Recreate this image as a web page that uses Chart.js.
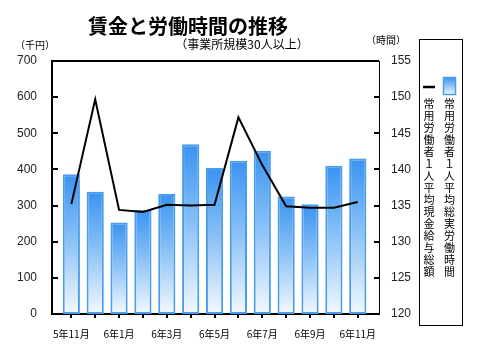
<!DOCTYPE html>
<html><head><meta charset="utf-8">
<script src="https://cdn.jsdelivr.net/npm/chart.js@4/dist/chart.umd.min.js"></script>
<style>html,body{margin:0;padding:0;background:#fff;}#wrap{width:479px;height:356px;}</style>
</head><body><div id="wrap"><canvas id="c" width="479" height="356"></canvas></div>
<script>
const categories = ['5年11月','5年12月','6年1月','6年2月','6年3月','6年4月','6年5月','6年6月','6年7月','6年8月','6年9月','6年10月','6年11月'];
const wages = [387, 338, 253, 288, 332, 470, 404, 424, 452, 325, 304, 410, 430];
const hours = [135.2, 149.7, 134.4, 134.1, 135.1, 135.0, 135.1, 147.2, 140.6, 134.9, 134.7, 134.7, 135.5];
const leftTicks = [0, 100, 200, 300, 400, 500, 600, 700];
const rightTicks = [120, 125, 130, 135, 140, 145, 150, 155];
const titleText = '賃金と労働時間の推移';
const subtitleText = '（事業所規模30人以上）';
const leftUnit = '（千円）';
const rightUnit = '（時間）';
const lineLabel = '常用労働者１人平均現金給与総額';
const barLabel = '常用労働者１人平均総実労働時間';

const JP = '"Noto Sans CJK JP", sans-serif';
const NUM = '"Liberation Sans", Arial, sans-serif';

function barGradient(c, top, bottom) {
  const g = c.createLinearGradient(0, top, 0, bottom);
  g.addColorStop(0, '#3a93f1');
  g.addColorStop(0.45, '#86bff6');
  g.addColorStop(1, '#f3f9ff');
  return g;
}

const decor = {
  id: 'decor',
  afterDraw(chart) {
    const c = chart.ctx, ca = chart.chartArea;
    const ys = chart.scales.y, y1 = chart.scales.y1, xs = chart.scales.x;
    c.save();
    c.fillStyle = '#000';
    c.textAlign = 'center'; c.textBaseline = 'middle';
    c.font = 'bold 20px ' + JP;
    c.fillText(titleText, 188, 26);
    c.font = '12px ' + JP;
    c.fillText(subtitleText, 242, 44);
    c.font = '10px ' + JP;
    c.fillText(leftUnit, 35, 45);
    c.fillText(rightUnit, 386, 40);
    // top border
    c.strokeStyle = '#000';
    c.lineWidth = 2;
    c.beginPath(); c.moveTo(ca.left, ca.top); c.lineTo(ca.right, ca.top); c.stroke();
    // ticks
    c.beginPath();
    leftTicks.forEach(v => { const p = Math.round(ys.getPixelForValue(v)); c.moveTo(ca.left, p); c.lineTo(ca.left + 6, p); });
    rightTicks.forEach(v => { const p = Math.round(y1.getPixelForValue(v)); c.moveTo(ca.right - 5, p); c.lineTo(ca.right, p); });
    categories.forEach((_, i) => { const p = Math.round(xs.getPixelForValue(i)); c.moveTo(p, ca.bottom); c.lineTo(p, ca.bottom + 4); });
    c.stroke();
    // legend
    c.lineWidth = 1;
    c.strokeRect(419.5, 39.5, 43, 286);
    const lineDs = chart.data.datasets[0], barDs = chart.data.datasets[1];
    c.lineWidth = 2.5;
    c.strokeStyle = lineDs.borderColor;
    c.beginPath(); c.moveTo(423, 87); c.lineTo(435, 87); c.stroke();
    c.fillStyle = barGradient(c, 77, 95);
    c.fillRect(443, 77, 13, 18);
    c.lineWidth = 1.5; c.strokeStyle = '#4a9cec';
    c.strokeRect(443.5, 77.5, 12, 17);
    c.fillStyle = '#000';
    c.font = '11px ' + JP;
    Array.from(lineDs.label).forEach((ch, i) => c.fillText(ch, 429, 104 + i * 12));
    Array.from(barDs.label).forEach((ch, i) => c.fillText(ch, 449.5, 104 + i * 12));
    c.restore();
  }
};

new Chart(document.getElementById('c'), {
  data: {
    datasets: [
      {
        type: 'line', label: lineLabel, yAxisID: 'y1', order: 0,
        data: hours.map((v, i) => ({x: i, y: v})),
        borderColor: '#000', borderWidth: 2, pointRadius: 0, tension: 0, fill: false
      },
      {
        type: 'bar', label: barLabel, yAxisID: 'y', order: 1,
        data: wages.map((v, i) => ({x: i, y: v})),
        backgroundColor: (ctx) => {
          const chart = ctx.chart;
          if (!chart.chartArea || ctx.type !== 'data') return '#3a93f1';
          const ys = chart.scales.y;
          return barGradient(chart.ctx, ys.getPixelForValue(ctx.parsed.y), ys.getPixelForValue(0));
        },
        borderColor: '#4a9cec', borderWidth: 2, borderSkipped: false,
        barPercentage: 0.72, categoryPercentage: 1
      }
    ]
  },
  options: {
    responsive: false, animation: false, devicePixelRatio: 1,
    layout: {padding: {top: 61, left: 0, right: 0, bottom: 0}},
    plugins: {legend: {display: false}, tooltip: {enabled: false}, title: {display: false}},
    scales: {
      x: {
        type: 'linear', position: 'bottom', min: -0.81, max: 12.89, offset: false,
        grid: {display: false}, border: {display: true, color: '#000', width: 2},
        afterBuildTicks: s => { s.ticks = categories.map((_, i) => ({value: i})); },
        afterFit: s => { s.height = 42; },
        ticks: {
          autoSkip: false, maxRotation: 0, padding: 6, color: '#000',
          font: {family: JP, size: 10},
          callback: (v) => (Number.isInteger(v) && v % 2 === 0) ? categories[v] : ''
        }
      },
      y: {
        type: 'linear', position: 'left', min: 0, max: 700,
        grid: {display: false}, border: {display: true, color: '#000', width: 2},
        afterBuildTicks: s => { s.ticks = leftTicks.map(v => ({value: v})); },
        afterFit: s => { s.width = 52; },
        ticks: {padding: 7, color: '#222', font: {family: NUM, size: 12}}
      },
      y1: {
        type: 'linear', position: 'right', min: 120, max: 155,
        grid: {display: false}, border: {display: true, color: '#000', width: 1},
        afterBuildTicks: s => { s.ticks = rightTicks.map(v => ({value: v})); },
        afterFit: s => { s.width = 100; },
        ticks: {padding: 4, color: '#222', font: {family: NUM, size: 12}}
      }
    }
  },
  plugins: [decor]
});
</script>
</body></html>
